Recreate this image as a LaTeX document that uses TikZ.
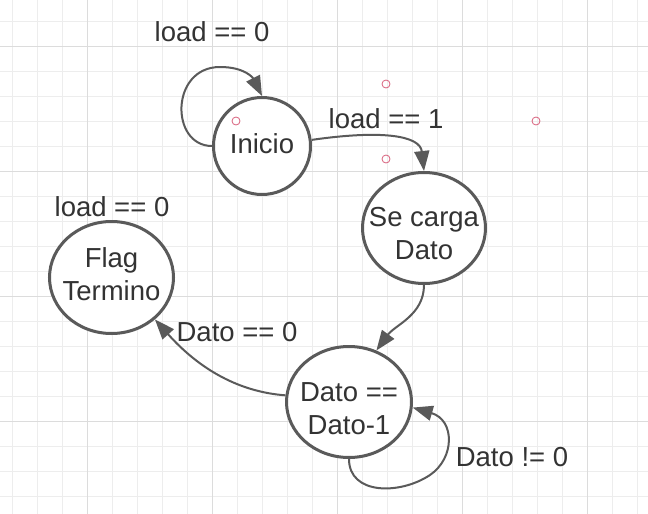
\documentclass[tikz,border=0pt]{standalone}
\usepackage{fontspec}
\setmainfont{Liberation Sans}
\usetikzlibrary{arrows.meta,shapes.geometric}
\definecolor{grid_minor}{HTML}{EDEDED}
\definecolor{grid_major}{HTML}{DCDCDC}
\definecolor{dark_gray}{HTML}{5A5A5A}
\definecolor{text_gray}{HTML}{333333}
\definecolor{pink_dot}{HTML}{D8607C}
% texte d'un etat : premiere ligne posee a #1 du centre
\newcommand{\etat}[2]{\raisebox{#1}[0pt][0pt]{\makebox[0pt]{\begin{tabular}[t]{@{}c@{}}#2\end{tabular}}}}

\begin{document}
\begin{tikzpicture}[x=1pt,y=-1pt,
        every node/.style={font=\fontsize{27.5}{33}\selectfont},
        state/.style={ellipse,draw=dark_gray,line width=3pt,fill=white,text=text_gray,inner sep=0pt},
        lbl/.style={text=text_gray,inner sep=0pt},
        trans/.style={draw=dark_gray,line width=2pt,-{Triangle[length=20pt,width=15pt]}}]
        % Fond quadrille
        \fill[white] (0,0) rectangle (648,514);
        \useasboundingbox (0,0) rectangle (648,514);
        \foreach \x in {12.5,37.5,...,637.5} \draw[grid_minor,line width=1pt] (\x,0) -- (\x,514);
        \foreach \y in {21,46,...,496} \draw[grid_minor,line width=1pt] (0,\y) -- (648,\y);
        \foreach \x in {87.5,212.5,...,587.5} \draw[grid_major,line width=1pt] (\x,0) -- (\x,514);
        \foreach \y in {46,171,...,421} \draw[grid_major,line width=1pt] (0,\y) -- (648,\y);

        % Etats
        \node[state,minimum width=97pt,minimum height=97pt] (inicio) at (262,146) {\etat{-7pt}{Inicio}};
        \node[state,minimum width=123pt,minimum height=111pt] (carga) at (424,228) {\etat{2pt}{Se carga\\Dato}};
        \node[state,minimum width=124pt,minimum height=112pt] (flag) at (111.5,277.5) {\etat{10.5pt}{Flag\\Termino}};
        \node[state,minimum width=125pt,minimum height=111pt] (dato) at (349,402) {\etat{1pt}{Dato ==\\Dato-1}};

        % Points de connexion
        \draw[pink_dot,line width=0.8pt] (236,121) circle (4);
        \draw[pink_dot,line width=0.8pt] (386,84) circle (4);
        \draw[pink_dot,line width=0.8pt] (386,159) circle (4);
        \draw[pink_dot,line width=0.8pt] (536,121) circle (4);

        % Transitions
        \draw[trans] (inicio.west) .. controls (170,146) and (170,67) .. (220,67) .. controls (245,67) and (253,78) .. (inicio.north);
        \draw[trans] (inicio.7) .. controls (380,130) and (420,135) .. (carga.north);
        \draw[trans] (carga.south) .. controls (424,315) and (395,325) .. (dato.62);
        \draw[trans] (dato.174) .. controls (240,392) and (200,370) .. (flag.-44);
        \draw[trans] (dato.south) .. controls (349,495) and (400,495) .. (430,475) .. controls (455,458) and (455,420) .. (dato.-5);

        % Conditions
        \node[lbl] (l_inicio) at (212,32) {load == 0};
        \node[lbl] (l_carga) at (386,119) {load == 1};
        \node[lbl] (l_flag) at (112,207) {load == 0};
        \node[lbl] (l_fin) at (237,332) {Dato == 0};
        \node[lbl] (l_dato) at (512,457) {Dato != 0};
\end{tikzpicture}
\end{document}
